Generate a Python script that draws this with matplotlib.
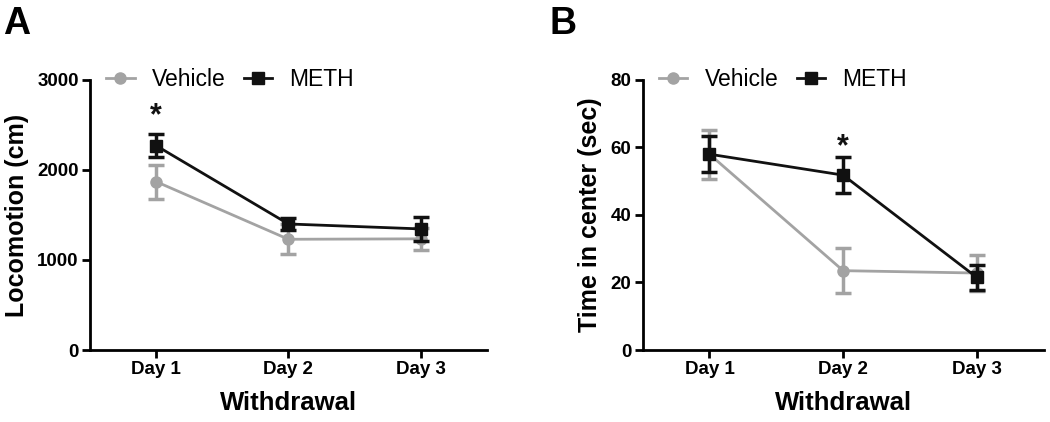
import matplotlib.pyplot as plt
from matplotlib.lines import Line2D

plt.rcParams["font.family"] = ["Liberation Sans", "DejaVu Sans"]

# ----------------- Data -----------------
days = ["Day 1", "Day 2", "Day 3"]

loco_vehicle = [1870, 1230, 1235]
loco_vehicle_err = [190, 165, 120]
loco_meth = [2270, 1400, 1345]
loco_meth_err = [130, 70, 135]

center_vehicle = [58.0, 23.5, 22.8]
center_vehicle_err = [7.3, 6.7, 5.2]
center_meth = [58.0, 51.8, 21.5]
center_meth_err = [5.4, 5.3, 3.7]

gray = "#a3a3a3"
black = "#111111"

# ----------------- Plot -----------------
fig = plt.figure(figsize=(10.5, 4.22), dpi=100)
axA = fig.add_axes([0.0857, 0.1706, 0.378, 0.64])
axB = fig.add_axes([0.612, 0.1706, 0.382, 0.64])

x = [1, 2, 3]

panels = [
    (axA, loco_vehicle, loco_vehicle_err, loco_meth, loco_meth_err,
     "Locomotion (cm)", [0, 1000, 2000, 3000], 3000, (1, 2600)),
    (axB, center_vehicle, center_vehicle_err, center_meth, center_meth_err,
     "Time in center (sec)", [0, 20, 40, 60, 80], 80, (2, 60.0)),
]

handles = [
    Line2D([0], [0], color=gray, marker="o", markersize=8, linewidth=2, label="Vehicle"),
    Line2D([0], [0], color=black, marker="s", markersize=8, linewidth=2, label="METH"),
]

for ax, veh, veh_e, meth, meth_e, ylabel, yticks, ymax, star in panels:
    ax.errorbar(x, veh, yerr=veh_e, color=gray, marker="o", markersize=8,
                linewidth=2, elinewidth=2.5, capsize=6, capthick=2.5, zorder=2)
    ax.errorbar(x, meth, yerr=meth_e, color=black, marker="s", markersize=9,
                linewidth=2, elinewidth=2.5, capsize=6, capthick=2.5, zorder=3)
    ax.text(star[0], star[1], "*", ha="center", va="center",
            fontsize=22, fontweight="bold", color=black)

    ax.set_xlim(0.5, 3.5)
    ax.set_ylim(0, ymax)
    ax.set_xticks(x)
    ax.set_xticklabels(days, fontsize=13.5, fontweight="bold")
    ax.set_yticks(yticks)
    ax.set_yticklabels([str(t) for t in yticks], fontsize=13.5, fontweight="bold")
    ax.set_ylabel(ylabel, fontsize=18, fontweight="bold", labelpad=6)
    ax.set_xlabel("Withdrawal", fontsize=18.5, fontweight="bold", labelpad=9)

    for side in ["top", "right"]:
        ax.spines[side].set_visible(False)
    for side in ["left", "bottom"]:
        ax.spines[side].set_linewidth(2)
    ax.tick_params(width=2, length=6, direction="out", pad=2)

    ax.legend(handles=handles, loc="center left", bbox_to_anchor=(0.04, 1.0),
              ncol=2, frameon=False, fontsize=16.5, handlelength=1.25,
              columnspacing=0.8, handletextpad=0.75, borderaxespad=0,
              borderpad=0)

fig.text(0.003, 0.985, "A", fontsize=27, fontweight="bold", va="top", ha="left")
fig.text(0.523, 0.985, "B", fontsize=27, fontweight="bold", va="top", ha="left")

fig.savefig("out.png", dpi=100)
